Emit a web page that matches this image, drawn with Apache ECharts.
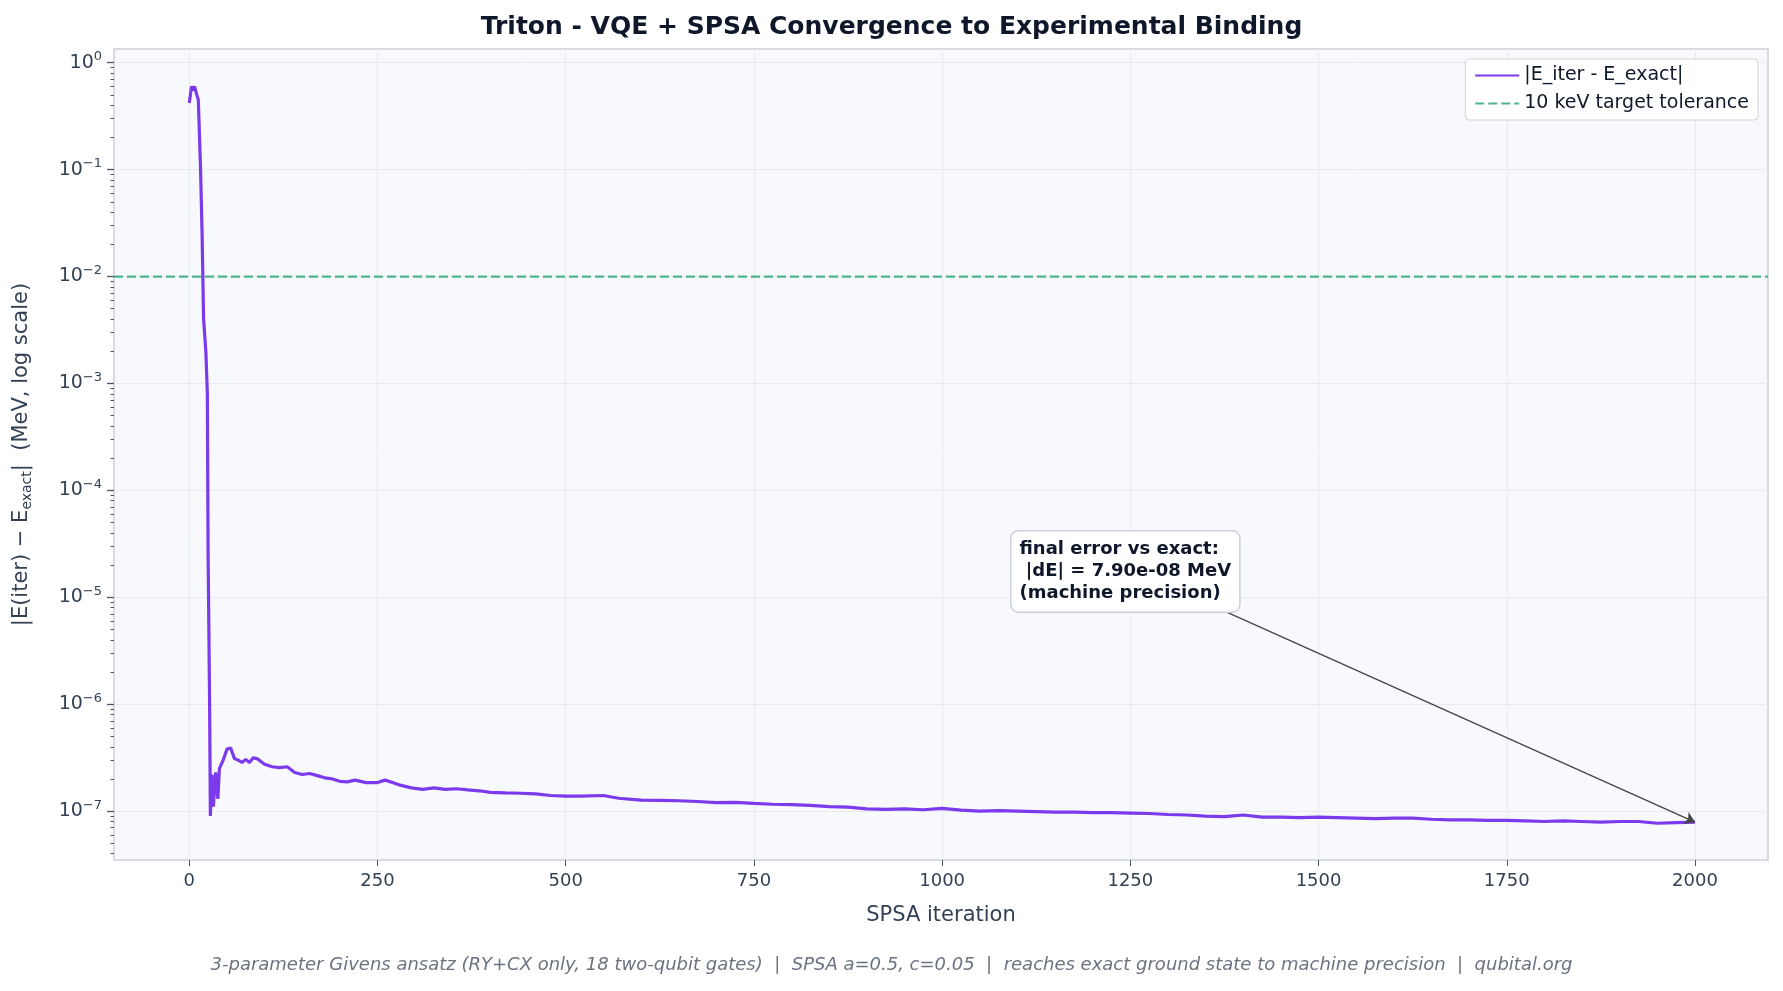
<!DOCTYPE html>
<html>
<head>
<meta charset="utf-8">
<script src="https://cdn.jsdelivr.net/npm/echarts@6/dist/echarts.min.js"></script>
<style>html,body{margin:0;padding:0;background:#fff}#main{width:1783px;height:991px}</style>
</head>
<body>
<div id="main"></div>
<script>
// values
var iters = [0, 3, 5, 7, 10, 12, 15, 17, 19, 22, 24, 25, 27, 28, 30, 32, 35, 38, 40, 45, 50, 55, 60, 65, 70, 75, 80, 85, 90, 100, 110, 120, 130, 140, 150, 160, 170, 180, 190, 200, 210, 220, 235, 250, 260, 270, 280, 295, 310, 325, 340, 355, 370, 385, 400, 420, 440, 460, 480, 500, 520, 550, 570, 600, 625, 650, 675, 700, 725, 750, 775, 800, 825, 850, 875, 900, 925, 950, 975, 1000, 1025, 1050, 1075, 1100, 1125, 1150, 1175, 1200, 1225, 1250, 1275, 1300, 1325, 1350, 1375, 1400, 1425, 1450, 1475, 1500, 1525, 1550, 1575, 1600, 1625, 1650, 1675, 1700, 1725, 1750, 1775, 1800, 1825, 1850, 1875, 1900, 1925, 1950, 1975, 2000];
var errs = [0.42, 0.6, 0.55, 0.6, 0.5, 0.45, 0.1, 0.025, 0.004, 0.002, 0.0008, 2.5e-5, 1e-6, 9e-8, 2.2e-7, 1.1e-7, 2.3e-7, 1.3e-7, 2.5e-7, 3e-7, 3.8e-7, 3.9e-7, 3.1e-7, 3.0e-7, 2.85e-7, 3.05e-7, 2.85e-7, 3.15e-7, 3.1e-7, 2.75e-7, 2.6e-7, 2.55e-7, 2.6e-7, 2.3e-7, 2.2e-7, 2.25e-7, 2.15e-7, 2.05e-7, 2.0e-7, 1.9e-7, 1.88e-7, 1.95e-7, 1.85e-7, 1.85e-7, 1.95e-7, 1.85e-7, 1.75e-7, 1.65e-7, 1.6e-7, 1.65e-7, 1.6e-7, 1.62e-7, 1.58e-7, 1.55e-7, 1.5e-7, 1.48e-7, 1.47e-7, 1.45e-7, 1.4e-7, 1.38e-7, 1.38e-7, 1.4e-7, 1.32e-7, 1.27e-7, 1.26e-7, 1.25e-7, 1.23e-7, 1.2e-7, 1.21e-7, 1.18e-7, 1.16e-7, 1.15e-7, 1.13e-7, 1.1e-7, 1.09e-7, 1.05e-7, 1.04e-7, 1.05e-7, 1.03e-7, 1.06e-7, 1.02e-7, 1.0e-7, 1.01e-7, 1.0e-7, 0.99e-7, 0.98e-7, 0.98e-7, 0.97e-7, 0.97e-7, 0.96e-7, 0.95e-7, 0.93e-7, 0.92e-7, 0.9e-7, 0.89e-7, 0.92e-7, 0.88e-7, 0.88e-7, 0.87e-7, 0.88e-7, 0.87e-7, 0.86e-7, 0.85e-7, 0.86e-7, 0.86e-7, 0.84e-7, 0.83e-7, 0.83e-7, 0.82e-7, 0.82e-7, 0.81e-7, 0.8e-7, 0.81e-7, 0.8e-7, 0.79e-7, 0.8e-7, 0.8e-7, 0.77e-7, 0.78e-7, 0.79e-7];
var tolerance = 0.01;
var finalErr = 7.9e-8;
var xTicks = [0, 250, 500, 750, 1000, 1250, 1500, 1750, 2000];
var yDecades = [-7, -6, -5, -4, -3, -2, -1, 0];

var minorTicks = [];
for (var d = -8; d <= 0; d++) {
	for (var k = 2; k <= 9; k++) {
		var v = d + Math.log10(k);
		if (v > -7.457 && v < 0.128) minorTicks.push(v);
	}
}
var lineData = [];
for (var i = 0; i < iters.length; i++) lineData.push([iters[i], Math.log10(errs[i])]);

var textColor = '#334155';
var myChart = echarts.init(document.getElementById('main'));
var option = {
	backgroundColor: '#ffffff',
	title: {
		text: 'Triton - VQE + SPSA Convergence to Experimental Binding',
		left: 'center', top: 10,
		textStyle: {fontFamily: 'DejaVu Sans', fontSize: 25, fontWeight: 'bold', color: '#0f172a'}
	},
	grid: {left: 114, right: 15, top: 49, bottom: 131, show: true, backgroundColor: '#f8f9fc', borderColor: '#cbd0d8', borderWidth: 1.5},
	legend: {
		right: 25, top: 59, orient: 'vertical', itemGap: 9, itemWidth: 44, itemHeight: 14,
		backgroundColor: 'rgba(255,255,255,0.9)', borderColor: '#d0d4da', borderWidth: 1, borderRadius: 4, padding: [7, 9],
		textStyle: {fontFamily: 'DejaVu Sans', fontSize: 19, color: '#0f172a'},
		itemStyle: {opacity: 0},
		lineStyle: {inactiveWidth: 3},
		data: ['|E_iter - E_exact|', '10 keV target tolerance']
	},
	xAxis: {
		type: 'value', min: -100, max: 2097, position: 'bottom',
		name: 'SPSA iteration', nameLocation: 'middle', nameGap: 45,
		nameTextStyle: {fontFamily: 'DejaVu Sans', fontSize: 21, color: textColor},
		axisLine: {show: false, onZero: false},
		axisTick: {show: true, customValues: xTicks, length: 6, lineStyle: {color: '#475569'}},
		axisLabel: {customValues: xTicks, fontFamily: 'DejaVu Sans', fontSize: 18, color: textColor, margin: 12,
			formatter: function (v) { return String(v); }},
		splitLine: {show: true, lineStyle: {color: '#e8eaef'}}
	},
	yAxis: [{
		type: 'value', min: -7.457, max: 0.128,
		name: '|E(iter) \u2212 E{sub|exact}|  (MeV, log scale)', nameLocation: 'middle', nameGap: 80, nameRotate: 90,
		nameTextStyle: {fontFamily: 'DejaVu Sans', fontSize: 21, color: textColor, rich: {sub: {fontSize: 14, padding: [10, 0, 0, 0], color: textColor, fontFamily: 'DejaVu Sans'}}},
		axisLine: {show: false, onZero: false},
		axisTick: {show: true, customValues: yDecades, length: 7, lineStyle: {color: '#475569', width: 1.3}},
		axisLabel: {customValues: yDecades, margin: 12,
			formatter: function (v) { return '{b|10}{s|' + String(Math.round(v)).replace('-', '\u2212') + '}'; },
			rich: {
				b: {fontFamily: 'DejaVu Sans', fontSize: 19, color: textColor},
				s: {fontFamily: 'DejaVu Sans', fontSize: 13, color: textColor, padding: [0, 0, 12, 0]}
			}},
		splitLine: {show: true, lineStyle: {color: '#e8eaef'}}
	}, {
		type: 'value', min: -7.457, max: 0.128, position: 'left',
		axisLine: {show: false, onZero: false},
		axisTick: {show: true, customValues: minorTicks, length: 3.5, lineStyle: {color: '#475569'}},
		axisLabel: {show: false},
		splitLine: {show: false}
	}],
	series: [{
		name: '|E_iter - E_exact|', type: 'line', symbol: 'none', data: lineData,
		lineStyle: {color: '#7c3aed', width: 3.2}, itemStyle: {color: '#7c3aed'},
		markLine: {
			silent: true, symbol: ['none', 'arrow'], symbolSize: 10,
			lineStyle: {color: '#444', width: 1.3, type: 'solid'}, label: {show: false},
			data: [[{coord: [1378, -5.138]}, {coord: [2000, Math.log10(finalErr)]}]]
		}
	}, {
		name: '10 keV target tolerance', type: 'line', symbol: 'none',
		data: [[-100, Math.log10(tolerance)], [2097, Math.log10(tolerance)]],
		lineStyle: {color: '#4fb38c', width: 2.2, type: [9, 4]}, itemStyle: {color: '#4fb38c'}
	}],
	graphic: [{
		type: 'text', left: 1010, top: 530, z: 100,
		style: {
			text: 'final error vs exact:\n |dE| = 7.90e-08 MeV\n(machine precision)',
			fontFamily: 'DejaVu Sans', fontSize: 18, fontWeight: 'bold', fill: '#0f172a', lineHeight: 22,
			backgroundColor: '#ffffff', borderColor: '#cbd0d8', borderWidth: 1.5, borderRadius: 7, padding: [7, 8, 7, 8]
		}
	}, {
		type: 'text', left: 'center', top: 956,
		style: {
			text: '3-parameter Givens ansatz (RY+CX only, 18 two-qubit gates)  |  SPSA a=0.5, c=0.05  |  reaches exact ground state to machine precision  |  qubital.org',
			fontFamily: 'DejaVu Sans', fontSize: 18, fontStyle: 'italic', fill: '#6b7280'
		}
	}]
};
myChart.setOption(option);
</script>
</body>
</html>
